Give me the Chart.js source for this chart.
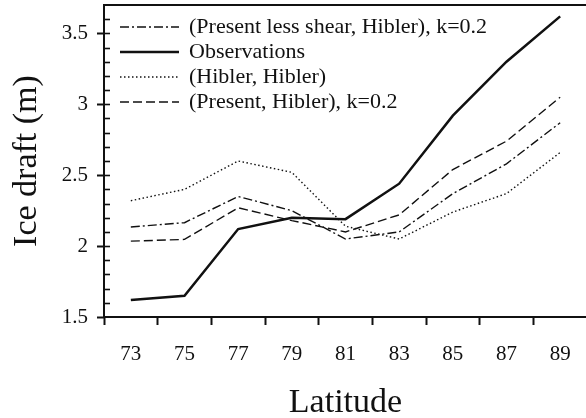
<!DOCTYPE html>
<html>
<head>
<meta charset="utf-8">
<script src="https://cdn.jsdelivr.net/npm/chart.js@4"></script>
<style>
  html, body { margin: 0; padding: 0; background: #fff; overflow: hidden; }
  #wrap { width: 588px; height: 418px; }
</style>
</head>
<body>
<div id="wrap"><canvas id="iceChart" width="588" height="418"></canvas></div>
<script>
// --- data ---
const latitudes = ['73', '75', '77', '79', '81', '83', '85', '87', '89'];
const observations     = [1.62, 1.65, 2.12, 2.20, 2.19, 2.44, 2.92, 3.30, 3.62];
const presentLessShear = [2.135, 2.165, 2.35, 2.25, 2.05, 2.10, 2.37, 2.58, 2.87];
const hiblerHibler     = [2.32, 2.40, 2.60, 2.52, 2.14, 2.05, 2.24, 2.37, 2.66];
const presentHibler    = [2.035, 2.047, 2.27, 2.18, 2.10, 2.22, 2.54, 2.74, 3.05];
const yTicks = [1.5, 2, 2.5, 3, 3.5];

const INK = '#111';
const SERIF = '"Liberation Serif", "Times New Roman", serif';

// frame + minor ticks on the y axis (inside the plot)
const framePlugin = {
    id: 'frame',
    afterDraw(chart) {
        const { ctx, chartArea: a, scales: { y } } = chart;
        ctx.save();
        ctx.strokeStyle = INK;
        ctx.lineWidth = 2;
        ctx.setLineDash([]);
        ctx.strokeRect(a.left, a.top, a.right - a.left, a.bottom - a.top);
        ctx.lineWidth = 1.6;
        for (let i = 16; i <= 36; i++) {
            const py = Math.round(y.getPixelForValue(i / 10)) + 0.5;
            ctx.beginPath();
            ctx.moveTo(a.left, py);
            ctx.lineTo(a.left + 6, py);
            ctx.stroke();
        }
        ctx.restore();
    }
};

// legend drawn inside the plot, top left
const legendOrder = [1, 0, 2, 3];
const insideLegend = {
    id: 'insideLegend',
    afterDraw(chart) {
        const { ctx, chartArea: a } = chart;
        ctx.save();
        ctx.font = '22px ' + SERIF;
        ctx.textBaseline = 'middle';
        ctx.fillStyle = INK;
        legendOrder.forEach((di, row) => {
            const ds = chart.data.datasets[di];
            const yy = a.top + 22 + row * 25;
            ctx.strokeStyle = INK;
            ctx.lineWidth = ds.borderWidth;
            ctx.setLineDash(ds.borderDash || []);
            ctx.beginPath();
            ctx.moveTo(a.left + 16, yy);
            ctx.lineTo(a.left + 75, yy);
            ctx.stroke();
            ctx.setLineDash([]);
            ctx.fillText(ds.label, a.left + 85, yy);
        });
        ctx.restore();
    }
};

const line = (label, data, width, dash) => ({
    label, data,
    borderColor: INK, borderWidth: width, borderDash: dash,
    pointRadius: 0, tension: 0, fill: false
});

new Chart(document.getElementById('iceChart'), {
    type: 'line',
    data: {
        labels: latitudes,
        datasets: [
            line('Observations', observations, 2.5, []),
            line('(Present less shear, Hibler), k=0.2', presentLessShear, 1.4, [9, 3, 2, 3]),
            line('(Hibler, Hibler)', hiblerHibler, 1.4, [1.5, 2.5]),
            line('(Present, Hibler), k=0.2', presentHibler, 1.4, [9, 4]),
        ]
    },
    options: {
        responsive: false,
        animation: false,
        devicePixelRatio: 1,
        layout: { padding: { top: 5, right: 1, left: 0, bottom: 0 } },
        plugins: { legend: { display: false }, tooltip: { enabled: false } },
        scales: {
            x: {
                type: 'category',
                offset: true,
                afterFit: s => { s.height = 101; s.paddingLeft = 0; s.paddingRight = 0; },
                grid: { offset: true, drawOnChartArea: false, tickLength: 8, tickWidth: 2, color: INK },
                border: { display: false },
                ticks: { padding: 17, color: INK, font: { family: SERIF, size: 21 }, maxRotation: 0 },
                title: { display: true, text: 'Latitude', color: INK, font: { family: SERIF, size: 34, lineHeight: 0.9 }, padding: 0 }
            },
            y: {
                type: 'linear',
                min: 1.5, max: 3.7,
                afterBuildTicks: s => { s.ticks = yTicks.map(v => ({ value: v })); },
                afterFit: s => { s.width = 104; s.paddingTop = 0; s.paddingBottom = 0; },
                grid: { drawOnChartArea: false, tickLength: 7, tickWidth: 2, color: INK },
                border: { display: false },
                ticks: { padding: 9, color: INK, font: { family: SERIF, size: 21 }, callback: v => String(v) },
                title: { display: true, text: 'Ice draft (m)', color: INK, font: { family: SERIF, size: 34 }, padding: { top: 7, bottom: 0 } }
            }
        }
    },
    plugins: [framePlugin, insideLegend]
});
</script>
</body>
</html>
